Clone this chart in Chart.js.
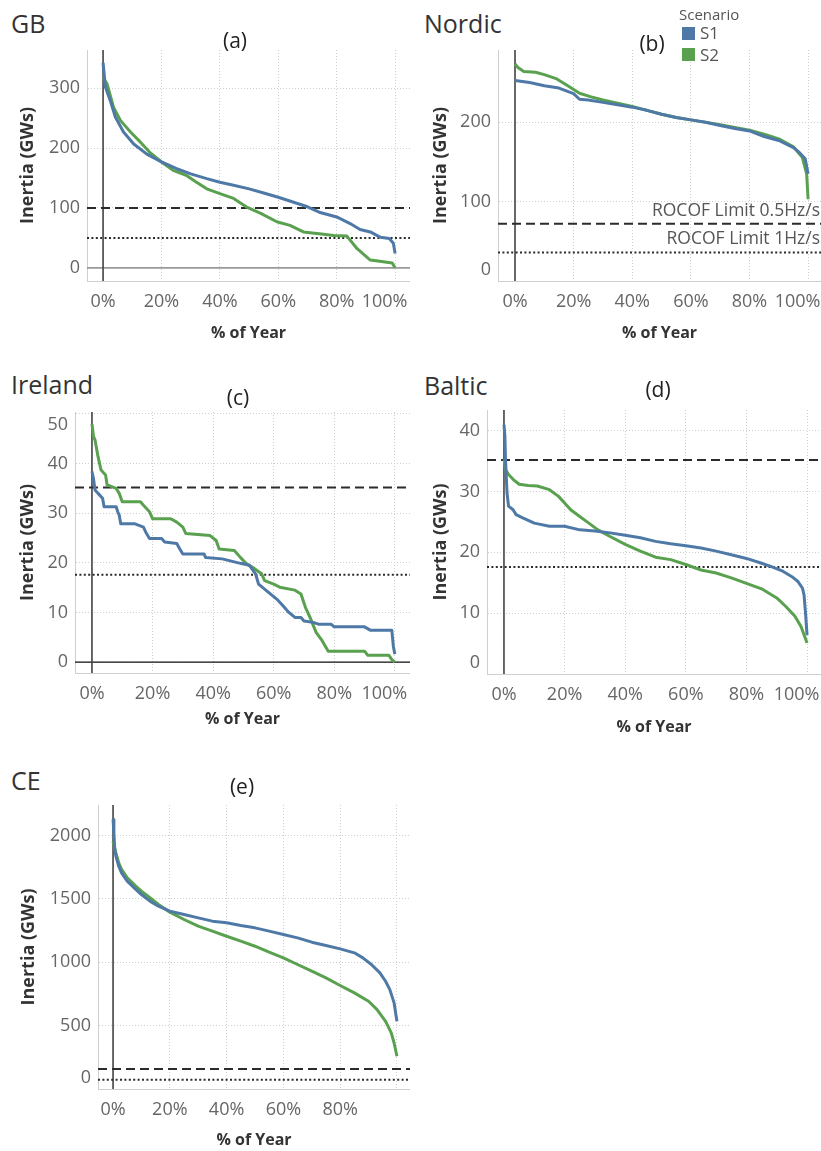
<!DOCTYPE html>
<html>
<head>
<meta charset="utf-8">
<script src="https://cdn.jsdelivr.net/npm/chart.js@4.4.1/dist/chart.umd.min.js"></script>
<style>
  body { margin: 0; background: #fff; width: 821px; height: 1151px; position: relative; overflow: hidden; font-family: 'Open Sans', sans-serif; }
  canvas { position: absolute; z-index: 1; }
  .region { position: absolute; font-size: 25px; line-height: 30px; color: #333; }
  .tag { position: absolute; font-size: 21px; line-height: 26px; color: #222; transform: translateX(-50%); z-index: 2; }
  .legend-title { position: absolute; left: 679px; top: 5px; font-size: 15px; line-height: 18px; color: #555; z-index: 2; }
  .swatch { position: absolute; left: 682px; width: 13px; height: 13px; z-index: 2; }
  .legend-label { position: absolute; left: 700px; font-size: 17px; line-height: 20px; color: #555; z-index: 2; background: #fff; }
</style>
</head>
<body>

<div class="region" style="left:11px;top:8px">GB</div>
<div class="region" style="left:424px;top:8px">Nordic</div>
<div class="region" style="left:11px;top:369px">Ireland</div>
<div class="region" style="left:424px;top:370px">Baltic</div>
<div class="region" style="left:11px;top:765px">CE</div>

<div class="tag" style="left:235px;top:27px">(a)</div>
<div class="tag" style="left:652px;top:30px">(b)</div>
<div class="tag" style="left:238px;top:384px">(c)</div>
<div class="tag" style="left:658px;top:376px">(d)</div>
<div class="tag" style="left:242px;top:773px">(e)</div>

<div class="legend-title">Scenario</div>
<div class="swatch" style="top:27px;background:#4e79a7"></div>
<div class="legend-label" style="top:23px">S1</div>
<div class="swatch" style="top:48px;background:#59a14f"></div>
<div class="legend-label" style="top:45px">S2</div>

<canvas id="c-gb" width="410" height="303" style="left:0;top:40px"></canvas>
<canvas id="c-nordic" width="411" height="303" style="left:410px;top:40px"></canvas>
<canvas id="c-ireland" width="410" height="329" style="left:0;top:400px"></canvas>
<canvas id="c-baltic" width="411" height="337" style="left:410px;top:400px"></canvas>
<canvas id="c-ce" width="410" height="355" style="left:0;top:795px"></canvas>

<script>
// ── Data: [% of year, inertia GWs] ──
const GB_S1 = [[0,343],[0.8,302],[2.5,279],[4.2,252],[7,227],[10.5,207],[15,190],[20,177],[25,166],[30,157],[35.5,149],[40,143],[44.7,138],[50,132],[55,125],[60,118],[65,110],[70,102],[74,93],[80,85],[84.6,74],[88,64],[91.5,60],[95,51],[98,49],[99.4,41],[100,24]];
const GB_S2 = [[0,318],[1.4,307],[3.6,268],[6,246],[9.4,227],[12.8,210],[16,193],[20,177],[24,163],[28.7,154],[32,143],[35.5,132],[40,124],[44.7,116],[49,102],[54,91],[59.5,77],[64,71],[68.6,60],[74,57],[79,54],[83.5,53],[87,32],[91.5,13],[96,10],[99,8],[100,0]];

const NORDIC_S1 = [[0,252.5],[5,250],[10,246],[15,243],[20,236],[22,229],[25,228],[30,225],[35,222],[40,219],[45,215],[50,210],[55,206],[60,203],[65,200],[70,196],[75,192],[80,189],[85,182],[90,177],[95,168],[97,162],[99,154],[100,135]];
const NORDIC_S2 = [[0,273.5],[1,269],[3,264],[7,263],[10,260],[14,255],[18,246],[22,236.5],[26,232],[30,228],[35,224],[40,220],[45,215],[50,210],[55,206],[60,203],[70,197],[80,190],[85,185],[90,179],[95,169],[98,156],[99.5,135],[100,103]];

const IRELAND_S1 = [[0,38.4],[0.5,37],[1,34.7],[2,34],[3.5,33],[4,31.3],[8,31.3],[8.5,30.3],[9,29.6],[9.5,27.9],[14,27.9],[17,27.2],[18,25.9],[19,24.9],[23,24.9],[24,24.2],[28,23.9],[29,22.8],[30,21.8],[37,21.8],[37.5,21.1],[43,20.8],[45,20.5],[49,19.9],[52,19.5],[54,17.8],[55,15.7],[57,14.7],[59,13.7],[61,12.7],[63,11.4],[65,10],[67,9],[69,9],[70,8.3],[73,8],[75,7.6],[79,7.6],[80,7.1],[90,7.1],[92,6.4],[99,6.4],[99.5,3.2],[100,1.6]];
const IRELAND_S2 = [[0,48],[0.5,45.5],[1,44.8],[2,41.4],[3,38.7],[4.5,37.7],[5,35.7],[8,35],[9,34],[10,32.3],[16,32.3],[17,31.6],[19,30.3],[20,28.9],[26,28.9],[28,28.2],[30,27.2],[31,25.9],[39,25.5],[41,24.5],[42,22.8],[47,22.5],[49,21.1],[51,19.8],[53,19.1],[56,17.8],[57,16.4],[60,15.7],[62,15.1],[67,14.5],[69,13.7],[70.5,11],[72,9],[74,6],[76,4.3],[78,2.2],[90,2.2],[91,1.4],[98,1.4],[99,0.5],[100,0]];

const BALTIC_S1 = [[0,41],[0.3,39.1],[0.5,35.3],[1,29.8],[1.5,27.6],[3,27],[4,26.2],[6,25.7],[10,24.8],[15,24.3],[20,24.3],[25,23.7],[30,23.5],[35,23.2],[40,22.8],[45,22.4],[50,21.8],[55,21.4],[60,21.1],[65,20.7],[70,20.2],[75,19.6],[80,19],[85,18.2],[88,17.7],[92,16.9],[95,16],[97,15.2],[98.5,14.1],[99,13],[99.5,10],[100,6.4]];
const BALTIC_S2 = [[0,35.3],[0.5,33.6],[1.5,32.8],[3,32],[5,31.2],[8,31],[11,30.9],[15,30.3],[18,29.2],[20,28.1],[22,27],[25,25.9],[28,24.8],[31,23.7],[35,22.6],[40,21.3],[45,20.2],[50,19.2],[55,18.8],[60,18],[65,17.1],[70,16.6],[75,15.8],[80,14.9],[85,14],[90,12.5],[93,11.1],[96,9.5],[98,7.8],[100,5.1]];

const CE_S1 = [[0,2126],[0.3,2021],[0.6,1889],[1,1837],[2,1758],[3,1705],[5,1639],[8,1574],[10,1534],[13,1482],[16,1442],[20,1403],[25,1376],[30,1350],[35,1324],[40,1311],[45,1289],[50,1271],[55,1245],[60,1218],[65,1192],[70,1158],[75,1132],[80,1105],[85,1074],[88,1034],[91,982],[94,916],[96,850],[97.5,784],[99,679],[100,534]];
const CE_S2 = [[0,1955],[1,1863],[2,1784],[3,1732],[5,1666],[8,1600],[10,1560],[13,1508],[16,1455],[20,1395],[25,1337],[30,1284],[35,1245],[40,1205],[45,1166],[50,1126],[55,1079],[60,1034],[65,982],[70,929],[75,876],[80,816],[85,758],[90,692],[93,626],[96,534],[98,442],[99,363],[100,258]];

// ROCOF limit lines [0.5Hz/s, 1Hz/s]
const GB_LIMITS = [100, 50];
const NORDIC_LIMITS = [72, 36];
const IRELAND_LIMITS = [35.2, 17.6];
const BALTIC_LIMITS = [35.2, 17.6];
const CE_LIMITS = [158, 72];
const NORDIC_LIMIT_LABELS = ['ROCOF Limit 0.5Hz/s', 'ROCOF Limit 1Hz/s'];

// Tick values and labels
const X_TICKS = [0, 20, 40, 60, 80, 100];
const X_LABELS = ['0%', '20%', '40%', '60%', '80%', '100%'];
const CE_X_LABELS = ['0%', '20%', '40%', '60%', '80%', ''];
const GB_Y_TICKS = [0, 100, 200, 300];
const NORDIC_Y_TICKS = [0, 100, 200];
const IRELAND_Y_TICKS = [0, 10, 20, 30, 40, 50];
const BALTIC_Y_TICKS = [0, 10, 20, 30, 40];
const CE_Y_TICKS = [0, 500, 1000, 1500, 2000];

const COLORS = {
  s1: '#4e79a7',
  s2: '#59a14f',
  grid: '#cfcfcf',
  tick: '#666',
  title: '#333',
  ref: '#2b2b2b',
  axis: '#444',
};

const toPts = (arr) => arr.map(([x, y]) => ({ x, y }));

// zero axes, limit lines (dashed / dotted) and their optional labels
const refLines = {
  id: 'refLines',
  beforeDatasetsDraw(chart, args, opts) {
    const { ctx, chartArea: a, scales: { x, y } } = chart;
    ctx.save();
    if (y.min < 0) {
      const y0 = y.getPixelForValue(0);
      ctx.strokeStyle = opts.zeroColor; ctx.lineWidth = opts.zeroWidth; ctx.setLineDash([]);
      ctx.beginPath(); ctx.moveTo(a.left, y0); ctx.lineTo(a.right, y0); ctx.stroke();
    }
    const x0 = x.getPixelForValue(0);
    ctx.strokeStyle = COLORS.axis; ctx.lineWidth = 1.6; ctx.setLineDash([]);
    ctx.beginPath(); ctx.moveTo(x0, a.top); ctx.lineTo(x0, a.bottom); ctx.stroke();

    const dashes = [[9, 5], [2, 2.4]];
    opts.limits.forEach((v, i) => {
      const py = y.getPixelForValue(v);
      ctx.strokeStyle = COLORS.ref; ctx.lineWidth = 2; ctx.setLineDash(dashes[i]);
      ctx.beginPath(); ctx.moveTo(a.left, py); ctx.lineTo(a.right, py); ctx.stroke();
      if (opts.labels && opts.labels[i]) {
        ctx.setLineDash([]);
        ctx.fillStyle = '#555';
        ctx.font = "17.5px 'Open Sans', sans-serif";
        ctx.textAlign = 'right'; ctx.textBaseline = 'middle';
        ctx.fillText(opts.labels[i], a.right - 1, py - 13);
      }
    });
    ctx.restore();
  },
};

const tickFont = { family: 'Open Sans', size: 18 };
const xTitleFont = { family: 'Open Sans', size: 16, weight: 'bold' };
const yTitleFont = { family: 'Open Sans', size: 18, weight: 'bold' };

function makePanel(id, p) {
  const dotted = { color: COLORS.grid, lineWidth: 1, drawTicks: false };
  return new Chart(document.getElementById(id), {
    type: 'line',
    data: {
      datasets: [
        { label: 'S1', data: toPts(p.s1), borderColor: COLORS.s1, borderWidth: 3, pointRadius: 0, tension: 0, borderJoinStyle: 'round' },
        { label: 'S2', data: toPts(p.s2), borderColor: COLORS.s2, borderWidth: 3, pointRadius: 0, tension: 0, borderJoinStyle: 'round' },
      ],
    },
    options: {
      responsive: false, animation: false,
      layout: { padding: { top: p.padTop, left: 0, right: 0, bottom: 0 } },
      plugins: {
        legend: { display: false },
        tooltip: { enabled: false },
        refLines: { limits: p.limits, labels: p.limitLabels, zeroColor: p.zeroColor || '#999', zeroWidth: p.zeroWidth || 1.5 },
      },
      scales: {
        x: {
          type: 'linear', min: p.xMin, max: p.xMax,
          afterBuildTicks: (s) => { s.ticks = X_TICKS.map(v => ({ value: v })); },
          afterFit: (s) => { s.height = p.xHeight; s.paddingLeft = 0; s.paddingRight = 0; },
          grid: dotted,
          border: { color: COLORS.grid, dash: [1, 2] },
          ticks: {
            padding: 10, color: COLORS.tick, font: tickFont, maxRotation: 0, autoSkip: false,
            // the label at the right edge is pulled inside the plot
            callback: function (v, i) {
              const label = p.xLabels[i];
              if (label && (this.max - v) / (this.max - this.min) < 0.06) return label + '\u2003\u2009';
              return label;
            },
          },
          title: { display: true, text: '% of Year', color: COLORS.title, font: xTitleFont, padding: 0 },
        },
        y: {
          min: p.yMin, max: p.yMax,
          afterBuildTicks: (s) => { s.ticks = p.yTicks.map(v => ({ value: v })); },
          afterFit: (s) => { s.width = p.yWidth; s.paddingTop = 0; s.paddingBottom = 0; },
          grid: dotted,
          border: { color: COLORS.grid, dash: [1, 2] },
          ticks: {
            padding: 7, color: COLORS.tick, font: tickFont,
            // edge labels are pulled inside the plot, like the source
            callback: function (v) {
              const f = (v - this.min) / (this.max - this.min);
              const s = String(v);
              if (f < 0.02) return [s, ''];
              if (f > 0.98) return ['', s];
              return s;
            },
          },
          title: { display: true, text: 'Inertia (GWs)', color: COLORS.title, font: yTitleFont, padding: { top: p.yTitlePad, bottom: 0 } },
        },
      },
    },
    plugins: [refLines],
  });
}

// dotted grid lines on all panels
Chart.defaults.scale.grid.borderDash = [1, 2];

makePanel('c-gb', {
  s1: GB_S1, s2: GB_S2, limits: GB_LIMITS, zeroColor: '#9a9a9a', zeroWidth: 1.6,
  xMin: -5.5, xMax: 105.1, yMin: -22, yMax: 364, yTicks: GB_Y_TICKS, xLabels: X_LABELS,
  padTop: 10, yWidth: 87, xHeight: 62, yTitlePad: 17.2,
});
makePanel('c-nordic', {
  s1: NORDIC_S1, s2: NORDIC_S2, limits: NORDIC_LIMITS, limitLabels: NORDIC_LIMIT_LABELS,
  xMin: -5.8, xMax: 104.4, yMin: 0, yMax: 291, yTicks: NORDIC_Y_TICKS, xLabels: X_LABELS,
  padTop: 10, yWidth: 88, xHeight: 62, yTitlePad: 20.2,
});
makePanel('c-ireland', {
  s1: IRELAND_S1, s2: IRELAND_S2, limits: IRELAND_LIMITS, zeroColor: '#111', zeroWidth: 1.2,
  xMin: -5.6, xMax: 105, yMin: -2.2, yMax: 50.4, yTicks: IRELAND_Y_TICKS, xLabels: X_LABELS,
  padTop: 12, yWidth: 75, xHeight: 56, yTitlePad: 17.2,
});
makePanel('c-baltic', {
  s1: BALTIC_S1, s2: BALTIC_S2, limits: BALTIC_LIMITS,
  xMin: -5.6, xMax: 104.6, yMin: 0, yMax: 43.4, yTicks: BALTIC_Y_TICKS, xLabels: X_LABELS,
  padTop: 10, yWidth: 77, xHeight: 63, yTitlePad: 20.2,
});
makePanel('c-ce', {
  s1: CE_S1, s2: CE_S2, limits: CE_LIMITS,
  xMin: -5.3, xMax: 104.6, yMin: 0, yMax: 2240, yTicks: CE_Y_TICKS, xLabels: CE_X_LABELS,
  padTop: 10, yWidth: 98, xHeight: 61, yTitlePad: 18.2,
});
</script>
</body>
</html>
